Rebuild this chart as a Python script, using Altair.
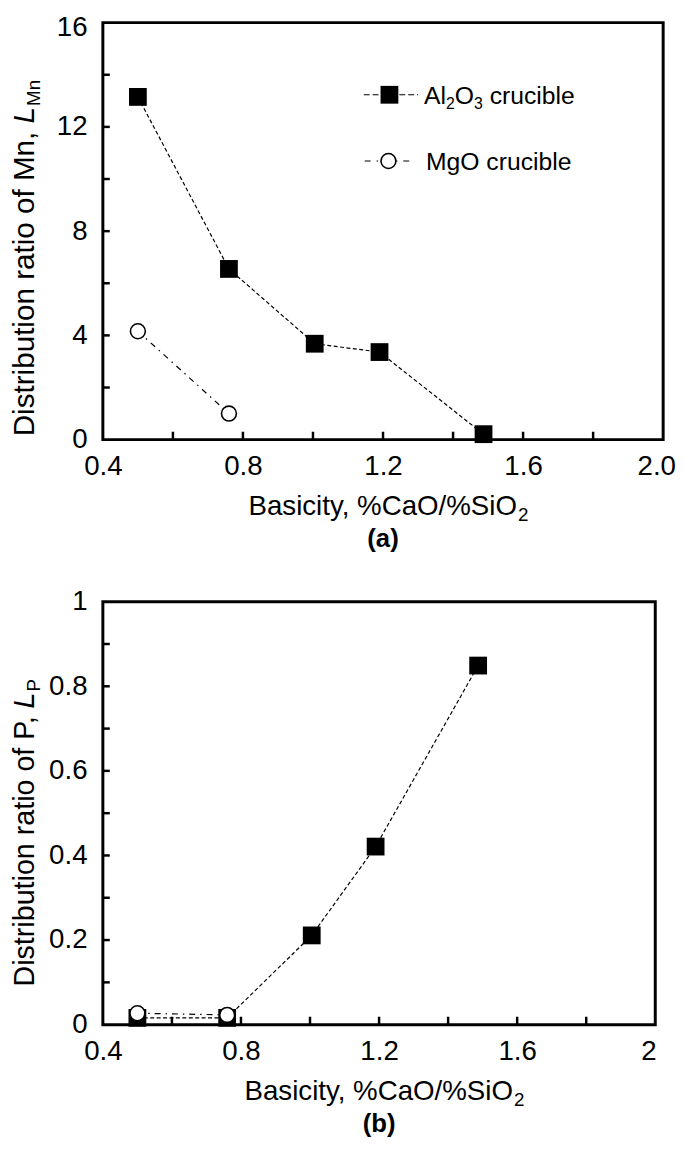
import altair as alt
import pandas as pd

# ---------------- data ----------------
basicity_al = [0.50, 0.76, 1.005, 1.19, 1.487]
basicity_mg = [0.50, 0.76]
lmn_al = [13.15, 6.55, 3.68, 3.36, 0.21]
lmn_mg = [4.16, 1.00]
lp_al = [0.016, 0.016, 0.211, 0.421, 0.849]
lp_mg = [0.027, 0.023]

series_names = ["Al2O3 crucible", "MgO crucible"]

x_label_vals = [0.4, 0.8, 1.2, 1.6, 2.0]
x_minor = [0.6, 0.8, 1.0, 1.2, 1.4, 1.6, 1.8]
ya_label_vals = [0, 4, 8, 12, 16]
ya_minor = [2, 4, 6, 8, 10, 12, 14]
yb_label_vals = [0, 0.2, 0.4, 0.6, 0.8, 1.0]
yb_minor = [0.1, 0.2, 0.3, 0.4, 0.5, 0.6, 0.7, 0.8, 0.9]

xtitle_main = "Basicity, %CaO/%SiO"
xtitle_sub = "2"
ytitle_a = ["Distribution ratio of Mn,", "L", "Mn"]
ytitle_b = ["Distribution ratio of P,", "L", "P"]
panel_labels = ["(a)", "(b)"]
legend_a_parts = ["Al", "2", "O", "3", " crucible"]
legend_b_text = "MgO crucible"

FONT = "Liberation Sans"
# Arial / Liberation Sans advance widths (em)
ADV = {"A": 0.667, "l": 0.222, "O": 0.778, " ": 0.278, "c": 0.5, "r": 0.333,
       "u": 0.556, "i": 0.222, "b": 0.556, "e": 0.556, "2": 0.556, "3": 0.556}


def tw(s, size):
    return sum(ADV.get(ch, 0.556) for ch in s) * size


def text_layer(txt, x, y, size, align="left", angle=0, bold=False, italic=False,
               baseline="alphabetic"):
    kw = dict(font=FONT, fontSize=size, align=align, baseline=baseline,
              color="black", fontWeight="bold" if bold else "normal",
              fontStyle="italic" if italic else "normal")
    if angle:
        kw["angle"] = angle
    return alt.Chart(pd.DataFrame({"t": [txt]})).mark_text(**kw).encode(
        text="t:N", x=alt.value(x), y=alt.value(y))


def panel(W, H, ydom, ylabels, yminor, yfmt, xfmt, al_vals, mg_vals,
          ytitle, ysize, yj, xt_right, plabel, top_label_shift=0, legend=False):
    xs = alt.Scale(domain=[0.4, 2.0], nice=False, zero=False)
    ys = alt.Scale(domain=ydom, nice=False, zero=False)
    xaxis = alt.Axis(values=x_label_vals, format=xfmt, title=None, labelFlush=False,
                     labelPadding=13, tickSize=0, ticks=False, domain=False, grid=False,
                     labelOverlap=False,
                     labelOffset={"condition": {"test": "datum.value >= 1.99", "value": -7},
                                  "value": 0})
    yaxis = alt.Axis(values=ylabels, format=yfmt, title=None, labelFlush=False,
                     labelPadding=16, tickSize=0, ticks=False, domain=False, grid=False,
                     labelOverlap=False,
                     labelOffset={"condition": {"test": f"datum.value >= {ydom[1]}",
                                                "value": top_label_shift},
                                  "value": 0})
    X = alt.X("b:Q", scale=xs, axis=xaxis)
    Y = alt.Y("v:Q", scale=ys, axis=yaxis)

    df_al = pd.DataFrame({"b": basicity_al, "v": al_vals, "s": series_names[0]})
    df_mg = pd.DataFrame({"b": basicity_mg, "v": mg_vals, "s": series_names[1]})

    base_al = alt.Chart(df_al)
    base_mg = alt.Chart(df_mg)
    line_al = base_al.mark_line(color="black", strokeWidth=1.2, strokeDash=[4, 2.5]).encode(x=X, y=Y)
    line_mg = base_mg.mark_line(color="black", strokeWidth=1.2,
                                strokeDash=[6, 5, 1.5, 5]).encode(x=X, y=Y)
    pts_al = base_al.mark_point(shape="square", filled=True, color="black", size=324,
                                opacity=1).encode(x=X, y=Y)
    pts_mg = base_mg.mark_point(shape="circle", filled=True, fill="white", stroke="black",
                                strokeWidth=1.6, size=227, opacity=1).encode(x=X, y=Y)

    xt = alt.Chart(pd.DataFrame({"b": x_minor})).mark_rule(color="black", strokeWidth=2.5).encode(
        x=X, y=alt.value(H), y2=alt.value(H - 8))
    yt = alt.Chart(pd.DataFrame({"v": yminor})).mark_rule(color="black", strokeWidth=2.5).encode(
        y=Y, x=alt.value(0), x2=alt.value(7))

    layers = [line_al, line_mg, xt, yt, pts_al, pts_mg]

    # y title (rotated)
    bx = -70
    sp = ADV[" "] * ysize
    layers.append(text_layer(ytitle[0], bx, yj + sp, ysize, align="right", angle=270))
    layers.append(text_layer(ytitle[1], bx, yj, ysize, align="left", angle=270, italic=True))
    lw = 0.556 * ysize
    layers.append(text_layer(ytitle[2], bx + 6, yj - lw - 1, 19, align="left", angle=270))

    # x title
    layers.append(text_layer(xtitle_main, xt_right, H + 76, 28, align="right"))
    layers.append(text_layer(xtitle_sub, xt_right + 1, H + 82, 19, align="left"))
    layers.append(text_layer(plabel, W / 2, H + 109, 26, align="center", bold=True))

    if legend:
        r1, r2 = 73, 140
        # row 1: Al2O3
        layers.append(alt.Chart(pd.DataFrame({"s": [series_names[0]]})).mark_rule(
            color="black", strokeWidth=1.2, strokeDash=[6, 3]).encode(
            x=alt.value(264), x2=alt.value(319), y=alt.value(r1)))
        layers.append(alt.Chart(pd.DataFrame({"s": [series_names[0]]})).mark_point(
            shape="square", filled=True, color="black", size=324, opacity=1).encode(
            x=alt.value(290), y=alt.value(r1)))
        x0 = 325
        sizes = [25, 16, 25, 16, 25]
        dys = [0, 5, 0, 5, 0]
        for part, s, d in zip(legend_a_parts, sizes, dys):
            if part.startswith(" "):
                x0 += ADV[" "] * s
                part = part.strip()
            layers.append(text_layer(part, x0, r1 + 9 + d, s, align="left"))
            x0 += tw(part, s)
        # row 2: MgO
        layers.append(alt.Chart(pd.DataFrame({"s": [series_names[1]]})).mark_rule(
            color="black", strokeWidth=1.2, strokeDash=[6, 6, 1.5, 6]).encode(
            x=alt.value(265), x2=alt.value(315), y=alt.value(r2)))
        layers.append(alt.Chart(pd.DataFrame({"s": [series_names[1]]})).mark_point(
            shape="circle", filled=True, fill="white", stroke="black", strokeWidth=1.6,
            size=227, opacity=1).encode(x=alt.value(289), y=alt.value(r2)))
        layers.append(text_layer(legend_b_text, 327, r2 + 9, 25, align="left"))

    return alt.layer(*layers).properties(width=W, height=H)


chart_a = panel(567, 422, [0, 16], ya_label_vals, ya_minor, "d", ".1f",
                lmn_al, lmn_mg, ytitle_a, 30, 102, 419, panel_labels[0],
                top_label_shift=5, legend=True)
chart_b = panel(559, 428, [0, 1], yb_label_vals, yb_minor, ".1~f", ".1~f",
                lp_al, lp_mg, ytitle_b, 29, 108, 415, panel_labels[1])

chart = alt.vconcat(chart_a, chart_b, spacing=32).properties(
    padding={"left": 0, "top": -3, "right": 0, "bottom": 0},
    background="white",
).configure_view(
    stroke="black", strokeWidth=3
).configure_axis(
    labelFont=FONT, labelFontSize=28, labelColor="black"
)

chart.save("out.html", embed_options={"renderer": "svg", "actions": False})
